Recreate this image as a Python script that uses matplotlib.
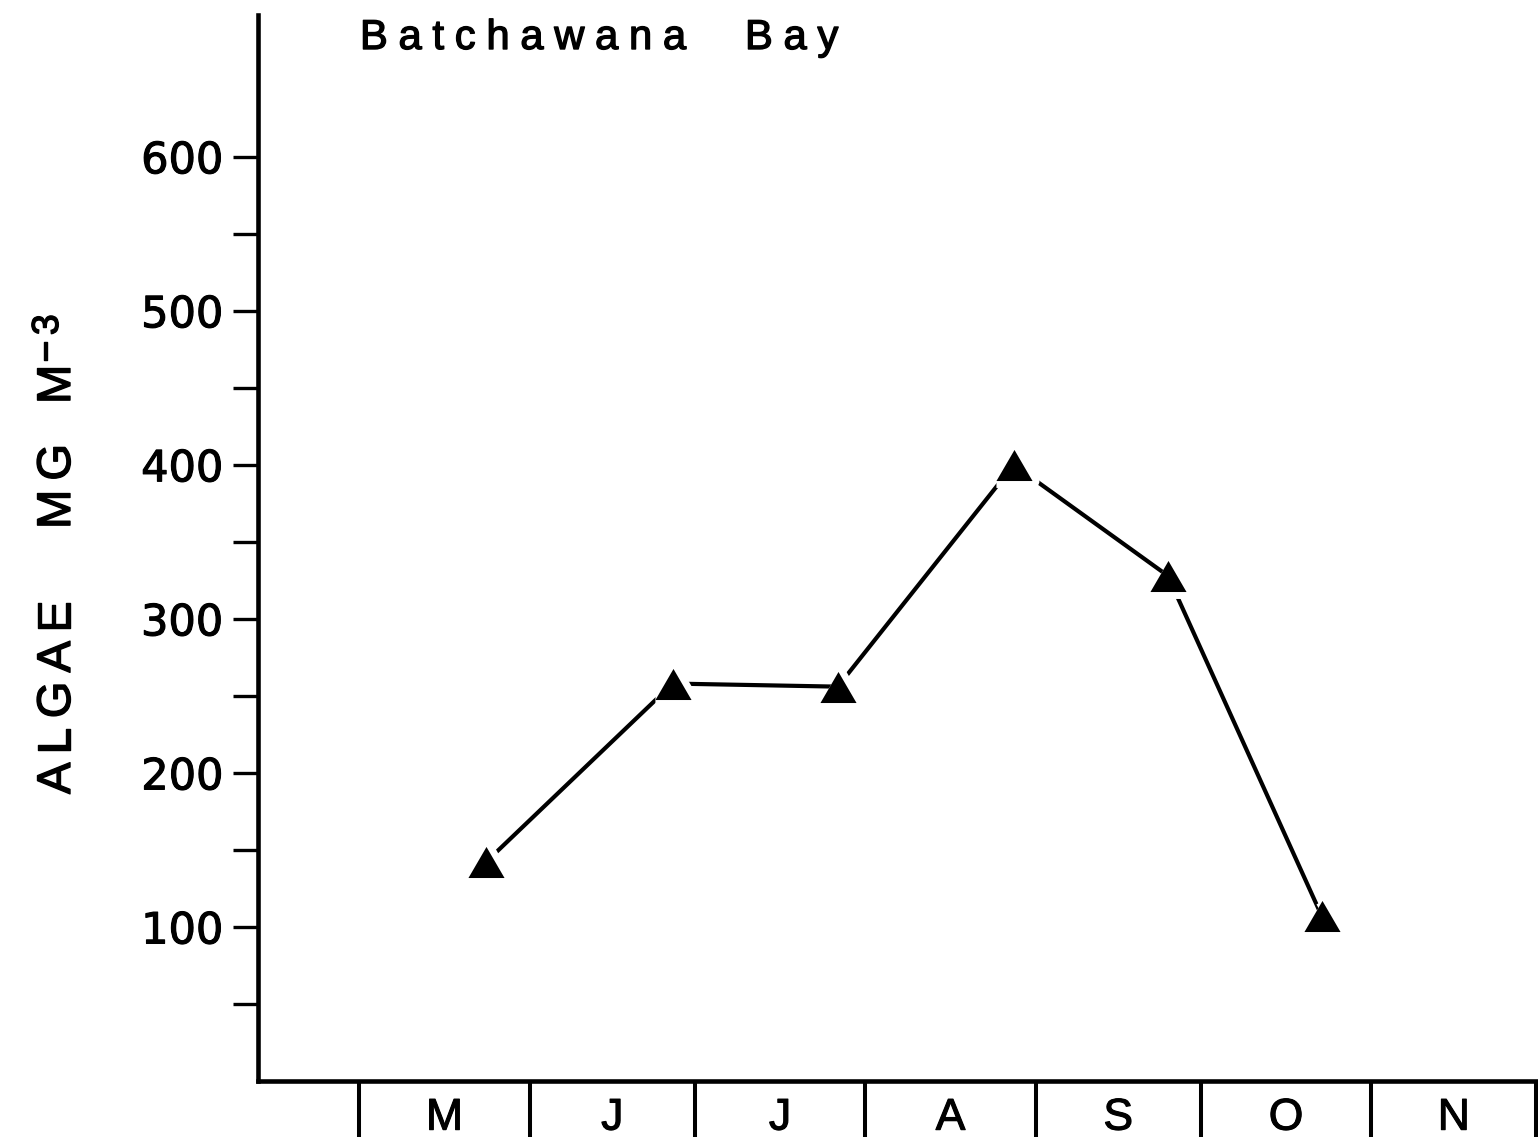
import matplotlib
matplotlib.use("Agg")
import matplotlib.pyplot as plt
import matplotlib.patheffects as pe
from matplotlib.ticker import FixedLocator, FixedFormatter, NullFormatter

plt.rcParams['font.family'] = ['Liberation Sans', 'DejaVu Sans']

# sampling dates, counted in days after 1 May
days = [23, 57, 87, 119, 147, 175]
algae = [142, 258, 256, 400, 328, 107]   # mg m^-3

# first day of each month (May .. Dec) and the month initials
month_starts = [0, 31, 61, 92, 123, 153, 184, 214]
months = ['M', 'J', 'J', 'A', 'S', 'O', 'N']

y_major = [100, 200, 300, 400, 500, 600]
y_minor = [50, 150, 250, 350, 450, 550]

W, H = 1538, 1138
fig = plt.figure(figsize=(W / 100, H / 100), dpi=100)
ax = fig.add_axes([258 / W, 57 / H, 1280 / W, 1066 / H])


def heavy(lw):
    # thicken glyphs a little, like the stencilled lettering
    return [pe.withStroke(linewidth=lw, foreground='black')]


def spaced(x, y, s, size, track, rotation=0):
    # letter-spaced text; x, y in pixels from the top-left corner
    r = fig.canvas.get_renderer()
    pos = 0.0
    for ch in s:
        px, py = (x, y - pos) if rotation else (x + pos, y)
        t = fig.text(px / W, 1 - py / H, ch, fontsize=size, rotation=rotation,
                     rotation_mode='anchor', ha='left', va='baseline',
                     path_effects=heavy(1.0))
        bb = t.get_window_extent(r)
        pos += (bb.height if rotation else bb.width) + track


tri = [(-1, -0.86), (1, -0.86), (0, 0.86)]

ax.plot(days, algae, color='black', lw=3.0, zorder=2, clip_on=False)
# white halo so the line stops short of each triangle
ax.plot(days, algae, ls='none', marker=tri, ms=26, mfc='white', mec='white',
        mew=10, zorder=3, clip_on=False)
ax.plot(days, algae, ls='none', marker=tri, ms=26, mfc='black', mec='black',
        mew=0, zorder=4, clip_on=False)

ax.set_xlim(-18.4, 214.3)
ax.set_ylim(0, 692)

for side in ['top', 'right']:
    ax.spines[side].set_visible(False)
for side in ['left', 'bottom']:
    ax.spines[side].set_linewidth(3.3)

mids = [(a + b) / 2 for a, b in zip(month_starts[:-1], month_starts[1:])]
ax.xaxis.set_major_locator(FixedLocator(month_starts))
ax.xaxis.set_major_formatter(NullFormatter())
ax.xaxis.set_minor_locator(FixedLocator(mids))
ax.xaxis.set_minor_formatter(FixedFormatter(months))
ax.tick_params(axis='x', which='major', direction='out', length=40, width=2.9)
ax.tick_params(axis='x', which='minor', length=0, pad=12, labelsize=32)

ax.set_yticks(y_major)
ax.set_yticks(y_minor, minor=True)
ax.tick_params(axis='y', which='both', direction='out', length=18, width=2.4,
               labelsize=31, pad=7, labelfontfamily='DejaVu Sans')

for lab in ax.get_yticklabels() + ax.get_xticklabels(minor=True):
    lab.set_path_effects(heavy(0.8))

spaced(360, 49, 'Batchawana', 30, 10.8)
spaced(745, 49, 'Bay', 30, 10.8)

spaced(70, 794, 'ALGAE', 34, 9, rotation=90)
spaced(70, 529, 'MG', 34, 9, rotation=90)
spaced(70, 404, 'M', 34, 9, rotation=90)
spaced(58, 362, '\u22123', 27, 5, rotation=90)

fig.savefig('out.png', dpi=100)
